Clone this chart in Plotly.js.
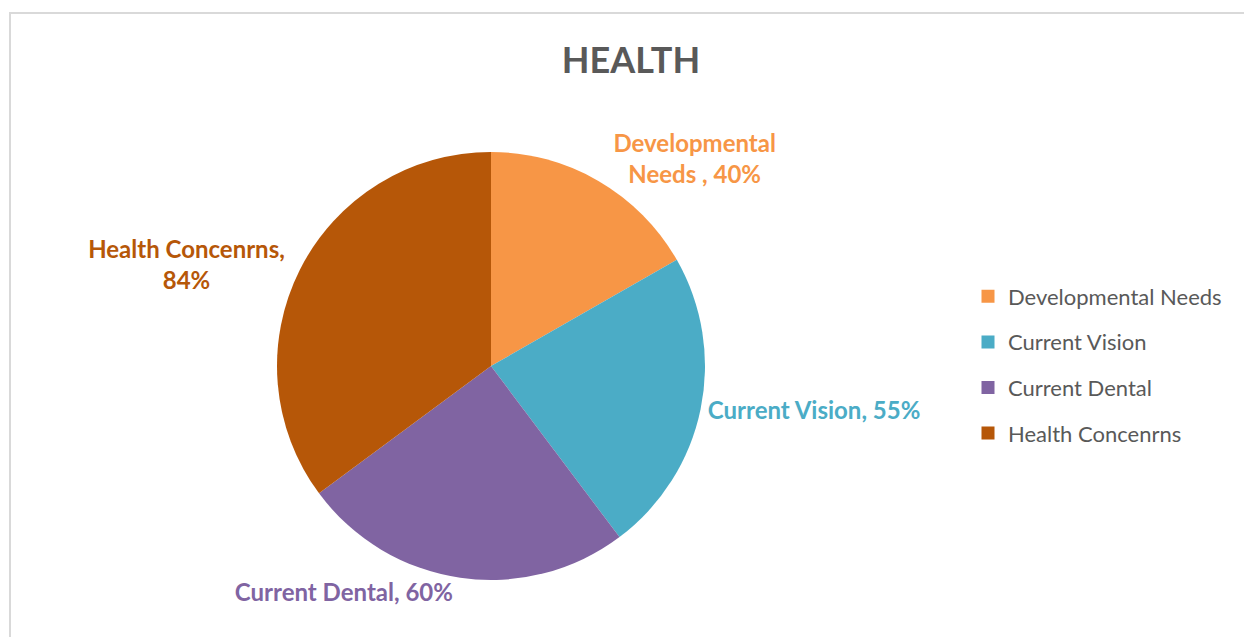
<!DOCTYPE html>
<html>
<head>
<meta charset="utf-8">
<script src="https://cdn.plot.ly/plotly-3.0.1.min.js"></script>
<style>
  html, body { margin: 0; padding: 0; background: #fff; }
  #frame { position: absolute; left: 9px; top: 12px; width: 1300px; height: 700px;
           border-left: 2px solid #d9d9d9; border-top: 2px solid #d9d9d9; box-sizing: border-box; }
  #chart { position: absolute; left: 0; top: 0; width: 1244px; height: 637px; }
</style>
</head>
<body>
<div id="frame"></div>
<div id="chart"></div>
<script>
const categories = ["Developmental Needs", "Current Vision", "Current Dental", "Health Concenrns"];
const values = [40, 55, 60, 84];
const labelTexts = ["Developmental<br>Needs , 40%", "Current Vision, 55%", "Current Dental, 60%", "Health Concenrns,<br>84%"];
const colors = ["#F79646", "#4BACC6", "#8064A2", "#B65708"];

const font = "Lato, 'Open Sans', sans-serif";

const pie = {
  type: "pie",
  labels: categories,
  values: values,
  text: labelTexts,
  texttemplate: "%{text}",
  textinfo: "text",
  textposition: "outside",
  sort: false,
  direction: "clockwise",
  rotation: 0,
  marker: { colors: colors, line: { width: 0 } },
  outsidetextfont: { family: font, size: 24, color: colors, weight: "bold" },
  showlegend: false,
  hoverinfo: "label+value",
  domain: { x: [277/1244, 705/1244], y: [1 - 580/637, 1 - 152/637] }
};

const legendTraces = categories.map((c, i) => ({
  type: "scatter",
  x: [null], y: [null],
  mode: "markers",
  name: c,
  legendgroup: "g" + i,
  marker: { symbol: "square", size: 13, color: colors[i] },
  showlegend: true
}));

const layout = {
  width: 1244, height: 637,
  margin: { l: 0, r: 0, t: 0, b: 0 },
  paper_bgcolor: "rgba(0,0,0,0)",
  plot_bgcolor: "rgba(0,0,0,0)",
  title: { text: "<b>HEALTH</b>", x: 631/1244, xanchor: "center", y: 1 - 60/637, yanchor: "middle",
           font: { family: font, size: 36, color: "#595959" } },
  xaxis: { visible: false, domain: [0, 0.01] },
  yaxis: { visible: false, domain: [0, 0.01] },
  showlegend: true,
  legend: { x: 968/1244, xanchor: "left", y: 1 - 365/637, yanchor: "middle",
            font: { family: font, size: 22, color: "#595959" },
            tracegroupgap: 14, itemwidth: 30, bgcolor: "rgba(0,0,0,0)" }
};

Plotly.newPlot("chart", [pie].concat(legendTraces), layout, { displayModeBar: false, staticPlot: true });
</script>
</body>
</html>
